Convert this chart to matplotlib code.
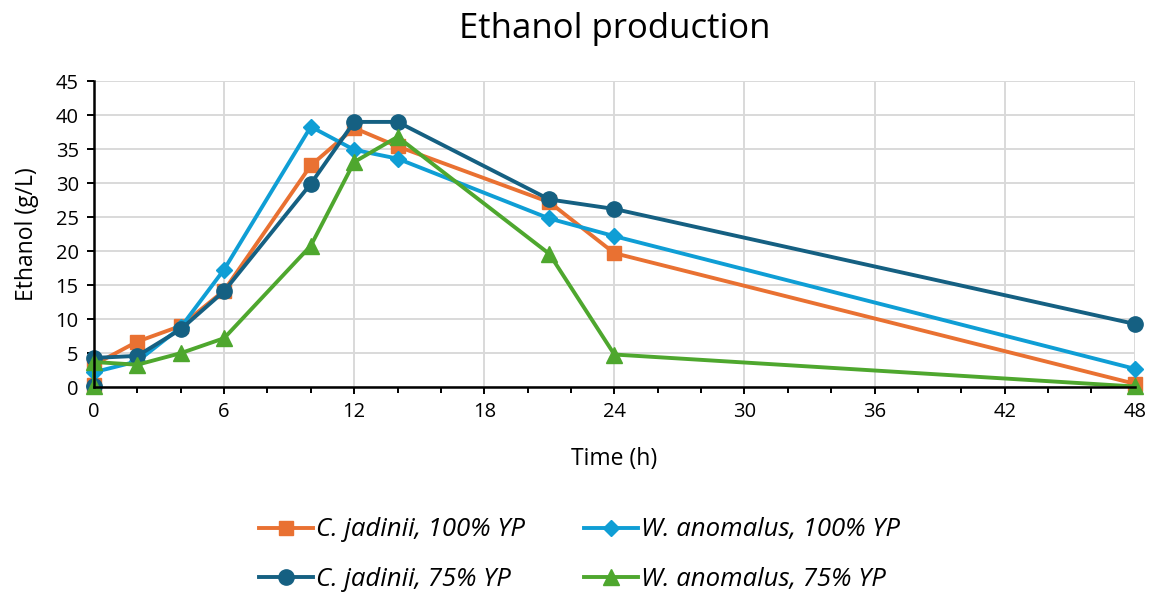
import matplotlib.pyplot as plt
from matplotlib.ticker import MultipleLocator

# sampling times (h); t=0 was measured twice
time_h = [0, 0, 2, 4, 6, 10, 12, 14, 21, 24, 48]

cj_100 = [0.3, 3.3, 6.7, 9.0, 14.2, 32.6, 38.1, 35.4, 27.2, 19.7, 0.5]
wa_100 = [0.2, 2.2, 3.8, 8.8, 17.3, 38.3, 34.9, 33.6, 24.8, 22.2, 2.7]
cj_75 = [0.2, 4.3, 4.6, 8.5, 14.1, 29.9, 39.0, 39.0, 27.6, 26.2, 9.3]
wa_75 = [0.2, 3.7, 3.3, 5.0, 7.2, 20.8, 33.1, 36.8, 19.6, 4.8, 0.1]

labels = ["C. jadinii, 100% YP", "W. anomalus, 100% YP",
          "C. jadinii, 75% YP", "W. anomalus, 75% YP"]

plt.rcParams["font.family"] = ["Open Sans", "DejaVu Sans"]

fig = plt.figure(figsize=(11.52, 5.92), dpi=100)
ax = fig.add_axes([0.0816, 0.346, 0.9034, 0.517])

lw = 2.8
l_cj100, = ax.plot(time_h, cj_100, color="#E97132", marker="s", label=labels[0],
                   linewidth=lw, markersize=10.5, clip_on=False)
l_wa100, = ax.plot(time_h, wa_100, color="#0F9ED5", marker="D", label=labels[1],
                   linewidth=lw, markersize=8.5, clip_on=False)
l_cj75, = ax.plot(time_h, cj_75, color="#156082", marker="o", label=labels[2],
                  linewidth=lw, markersize=11, clip_on=False)
l_wa75, = ax.plot(time_h, wa_75, color="#4EA72E", marker="^", label=labels[3],
                  linewidth=lw, markersize=12, clip_on=False)

ax.set_xlim(0, 48)
ax.set_ylim(0, 45)
ax.xaxis.set_major_locator(MultipleLocator(6))
ax.xaxis.set_minor_locator(MultipleLocator(2))
ax.yaxis.set_major_locator(MultipleLocator(5))

ax.grid(True, which="major", color="#D9D9D9", linewidth=1.4)
ax.set_axisbelow(True)
for side in ["top", "right"]:
    ax.spines[side].set_visible(False)
for side in ["left", "bottom"]:
    ax.spines[side].set_linewidth(1.8)
    ax.spines[side].set_color("black")

ax.tick_params(axis="both", which="major", labelsize=14.5, length=5, width=1.4,
               direction="out", pad=6)
ax.tick_params(axis="x", which="minor", length=4, width=1.4, direction="out")

ax.set_xlabel("Time (h)", fontsize=16.5, labelpad=18)
ax.set_ylabel("Ethanol (g/L)", fontsize=16.5, labelpad=12)
ax.set_title("Ethanol production", fontsize=25, pad=31)

handles = [l_cj100, l_cj75, l_wa100, l_wa75]
fig.legend(handles, [h.get_label() for h in handles], ncol=2,
           loc="center", bbox_to_anchor=(0.503, 0.063), frameon=False,
           prop={"size": 18.5, "style": "italic"}, handlelength=2.1,
           columnspacing=2.3, labelspacing=0.95, handletextpad=0.1)

fig.savefig("out.png", dpi=100)
